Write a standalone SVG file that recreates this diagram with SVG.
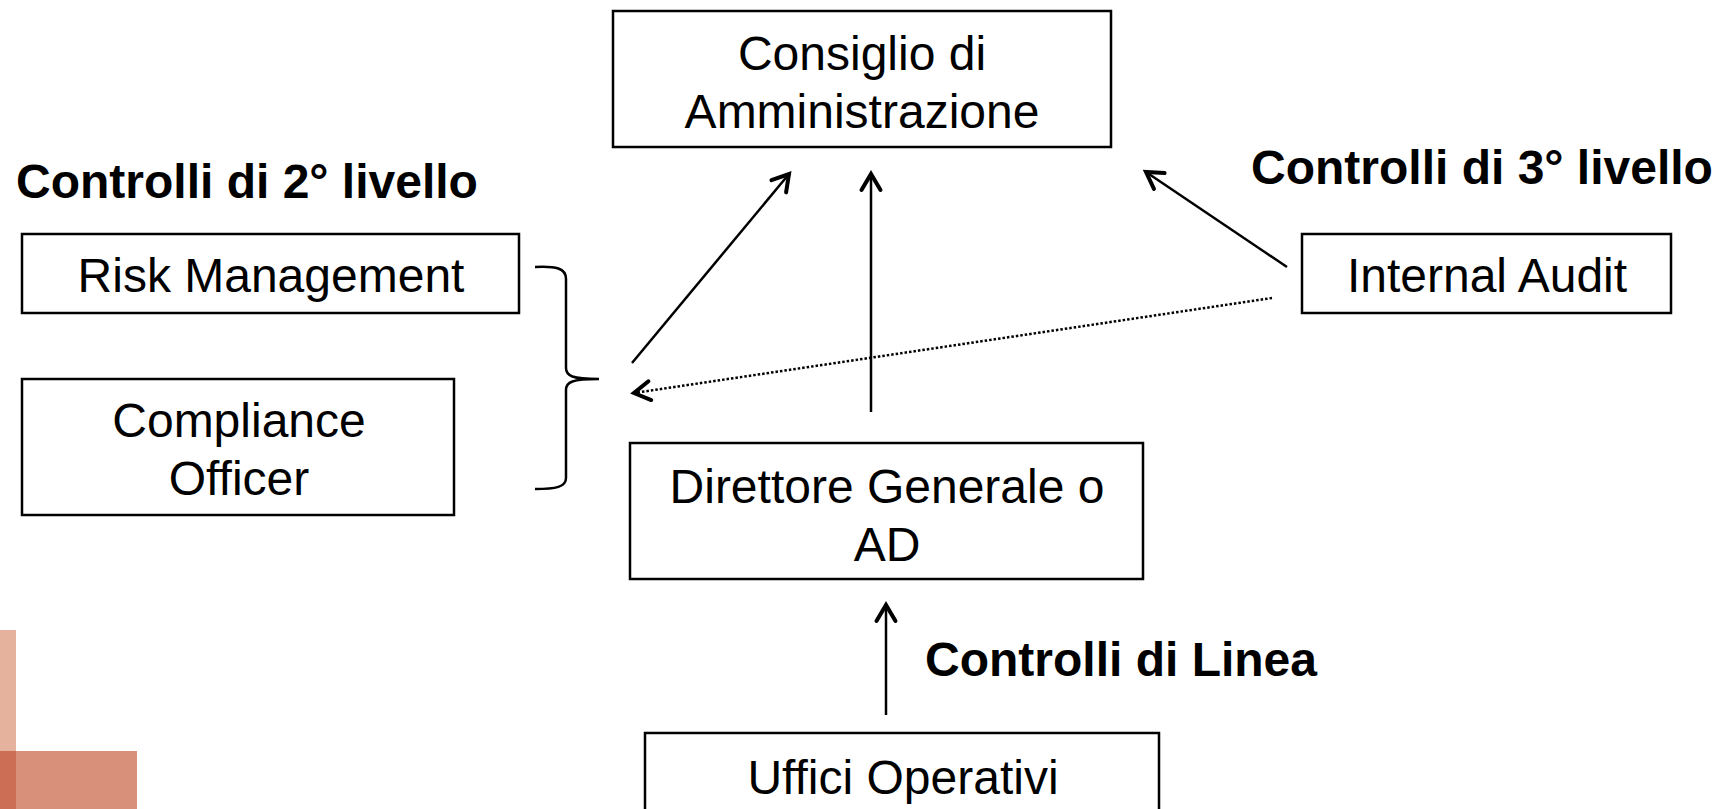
<svg xmlns="http://www.w3.org/2000/svg" width="1724" height="809" viewBox="0 0 1724 809">
<style>
.box{fill:#fff;stroke:#000;stroke-width:2.5}
.t{font-family:"Liberation Sans",Arial,sans-serif;font-size:48px;fill:#000;text-anchor:middle}
.b{font-family:"Liberation Sans",Arial,sans-serif;font-size:48px;font-weight:bold;fill:#000}
.c{fill:none;stroke:#000;stroke-width:2.5}
.dot{fill:none;stroke:#000;stroke-width:2.5;stroke-dasharray:2.5 2}
</style>
<defs>
<marker id="ah" markerUnits="userSpaceOnUse" markerWidth="40" markerHeight="40" refX="0" refY="0" orient="auto" overflow="visible">
<path d="M-16,-9.5 L0,0 L-16,9.5" fill="none" stroke="#000" stroke-width="4" stroke-linecap="round" stroke-linejoin="miter"/>
</marker>
</defs>
<rect x="0" y="630" width="16" height="121" fill="#E5B29E"/>
<rect x="16" y="751" width="121" height="58" fill="#D8907A"/>
<rect x="0" y="751" width="16" height="58" fill="#CC6E56"/>
<g id="connectors">
<line class="c" x1="632" y1="363" x2="789" y2="174" marker-end="url(#ah)"/>
<line class="c" x1="871" y1="412" x2="871" y2="174" marker-end="url(#ah)"/>
<line class="c" x1="1287" y1="267" x2="1146" y2="172" marker-end="url(#ah)"/>
<line class="dot" x1="1272" y1="298" x2="634" y2="393" marker-end="url(#ah)"/>
<line class="c" x1="886" y1="715" x2="886" y2="605" marker-end="url(#ah)"/>
<path class="c" d="M535,267 C556,266 566,268 566,279 L566,368 C566,376 572,379 599,379 C572,379 566,382 566,390 L566,478 C566,487 556,489 535,489"/>
</g>
<g id="consiglio">
<rect class="box" x="613" y="11" width="498" height="136"/>
<text class="t" x="862" y="70">Consiglio di</text>
<text class="t" x="862" y="128">Amministrazione</text>
</g>
<g id="risk">
<rect class="box" x="22" y="234" width="497" height="79"/>
<text class="t" x="271" y="292">Risk Management</text>
</g>
<g id="compliance">
<rect class="box" x="22" y="379" width="432" height="136"/>
<text class="t" x="239" y="437">Compliance</text>
<text class="t" x="239" y="495">Officer</text>
</g>
<g id="audit">
<rect class="box" x="1302" y="234" width="369" height="79"/>
<text class="t" x="1487" y="292">Internal Audit</text>
</g>
<g id="direttore">
<rect class="box" x="630" y="443" width="513" height="136"/>
<text class="t" x="887" y="503">Direttore Generale o</text>
<text class="t" x="887" y="561">AD</text>
</g>
<g id="uffici">
<rect class="box" x="645" y="733" width="514" height="100"/>
<text class="t" x="903" y="794">Uffici Operativi</text>
</g>
<g id="labels">
<text class="b" x="16" y="198">Controlli di 2° livello</text>
<text class="b" x="1251" y="184">Controlli di 3° livello</text>
<text class="b" x="925" y="676">Controlli di Linea</text>
</g>
</svg>
